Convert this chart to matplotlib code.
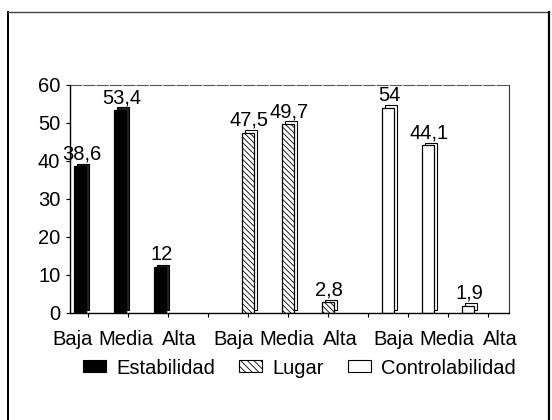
import matplotlib
matplotlib.use("Agg")
import matplotlib.pyplot as plt
from matplotlib.lines import Line2D
from matplotlib.patches import Patch
import numpy as np

plt.rcParams['font.family'] = ['Liberation Sans', 'DejaVu Sans']
plt.rcParams['hatch.linewidth'] = 0.6

# ---- data ----
niveles = ["Baja", "Media", "Alta"]
series = ["Estabilidad", "Lugar", "Controlabilidad"]
estabilidad = [38.6, 53.4, 12]
lugar = [47.5, 49.7, 2.8]
controlabilidad = [54, 44.1, 1.9]
y_ticks = [0, 10, 20, 30, 40, 50, 60]

values = [estabilidad, lugar, controlabilidad]

# ---- layout ----
FS = 14.5
group_start = [-0.2, 4.0, 7.5]
bar_w = 0.3
depth_x, depth_y = 0.07, 0.7
HATCH = "\\" * 6
styles = [
    dict(facecolor="black", edgecolor="black", hatch=None),
    dict(facecolor="white", edgecolor="black", hatch=HATCH),
    dict(facecolor="white", edgecolor="black", hatch=None),
]
back_fc = ["#222222", "white", "white"]

fig = plt.figure(figsize=(5.52, 4.2), dpi=100)
ax = fig.add_axes([70 / 552, 107 / 420, 439 / 552, 228 / 420])

def fmt(v):
    s = ("%g" % v)
    return s.replace(".", ",")

for gi, (vals, st) in enumerate(zip(values, styles)):
    xs = group_start[gi] + np.arange(len(vals))
    # depth (3D) face behind each bar
    ax.bar(xs + depth_x, vals, width=bar_w, bottom=depth_y, facecolor=back_fc[gi],
           edgecolor="black", linewidth=0.8, zorder=1.5)
    ax.bar(xs, vals, width=bar_w, linewidth=0.9, zorder=2, **st)
    for x, v in zip(xs, vals):
        ax.annotate(fmt(v), (x, v), xytext=(1, 5), textcoords="offset points",
                    ha="center", va="baseline", fontsize=FS)

ax.set_xlim(-0.45, 10.525)
ax.set_ylim(0, 60)
ax.set_yticks(y_ticks)
ax.tick_params(axis="y", length=3, width=0.8, pad=4, labelsize=FS)

# category labels spread evenly beneath the axis
lab_pos = np.linspace(-0.375, 10.3, len(niveles) * len(series))
ax.set_xticks(lab_pos)
ax.set_xticklabels(niveles * len(series), fontsize=FS)
ax.tick_params(axis="x", length=0, pad=12)
ax.set_xticks(np.arange(0, 11), minor=True)
ax.tick_params(axis="x", which="minor", length=3, width=0.8, direction="out")

for s in ["left", "bottom"]:
    ax.spines[s].set_linewidth(1.0)
    ax.spines[s].set_zorder(3)
ax.spines["top"].set_color("#555555")
ax.spines["top"].set_linewidth(0.8)
ax.spines["top"].set_linestyle((0, (10, 2)))
ax.spines["right"].set_color("#333333")
ax.spines["right"].set_linewidth(0.8)

handles = [Patch(facecolor=st["facecolor"], edgecolor="black",
                 hatch=("\\" * 5 if st["hatch"] else None), linewidth=0.8) for st in styles]
fig.legend(handles, series, loc="center", bbox_to_anchor=(299.5 / 552, 52 / 420),
           ncol=3, frameon=False, fontsize=FS, handlelength=1.15, handleheight=0.55,
           handletextpad=0.5, columnspacing=1.2, borderpad=0)

# outer frame (bottom edge falls outside the image)
W, H = 552, 420
fig.add_artist(Line2D([8 / W, 8 / W], [0, 1 - 12 / H], transform=fig.transFigure,
                      color="black", lw=1.4))
fig.add_artist(Line2D([8 / W, 549 / W], [1 - 12 / H, 1 - 12 / H], transform=fig.transFigure,
                      color="#444444", lw=1.0))
fig.add_artist(Line2D([549 / W, 549 / W], [0, 1 - 12 / H], transform=fig.transFigure,
                      color="black", lw=1.6))

fig.savefig("out.png", dpi=100)
